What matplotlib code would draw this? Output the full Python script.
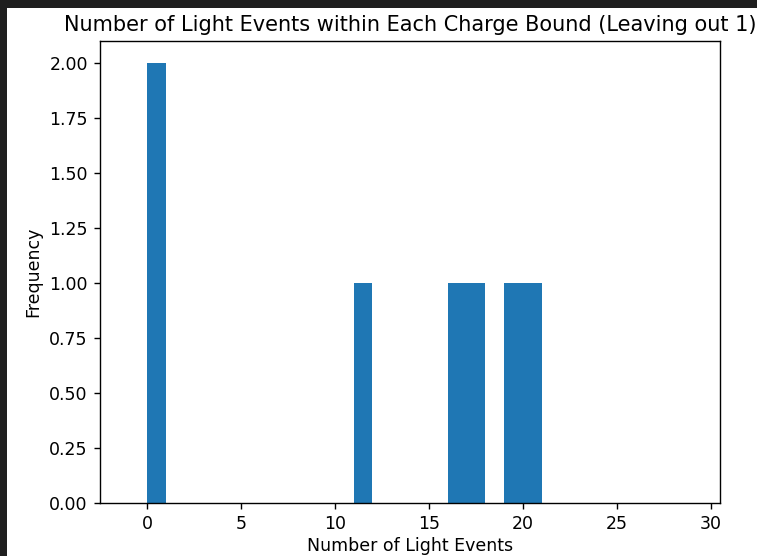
import matplotlib
matplotlib.use("Agg")
from matplotlib import pyplot as plt
from matplotlib.patches import Rectangle
import numpy as np

# light event counts per charge bound (one bound left out)
light_events = [0, 0, 11, 16, 17, 19, 20]
bin_edges = np.arange(-1, 30, 1)

W, H = 757, 556
fig = plt.figure(figsize=(W / 125, H / 125), dpi=125)
fig.patch.set_facecolor("#1f1f1f")
fig.patches.append(Rectangle((7 / W, 0), 1, (H - 8) / H, transform=fig.transFigure,
                             facecolor="white", edgecolor="none", zorder=-1))

ax = fig.add_axes([100 / W, (H - 503) / H, 620 / W, 462 / H])
ax.hist(light_events, bins=bin_edges)
ax.set_title("Number of Light Events within Each Charge Bound (Leaving out 1)")
ax.set_xlabel("Number of Light Events", labelpad=2)
ax.set_ylabel("Frequency")

fig.savefig("out.png", dpi=125, facecolor=fig.get_facecolor())
